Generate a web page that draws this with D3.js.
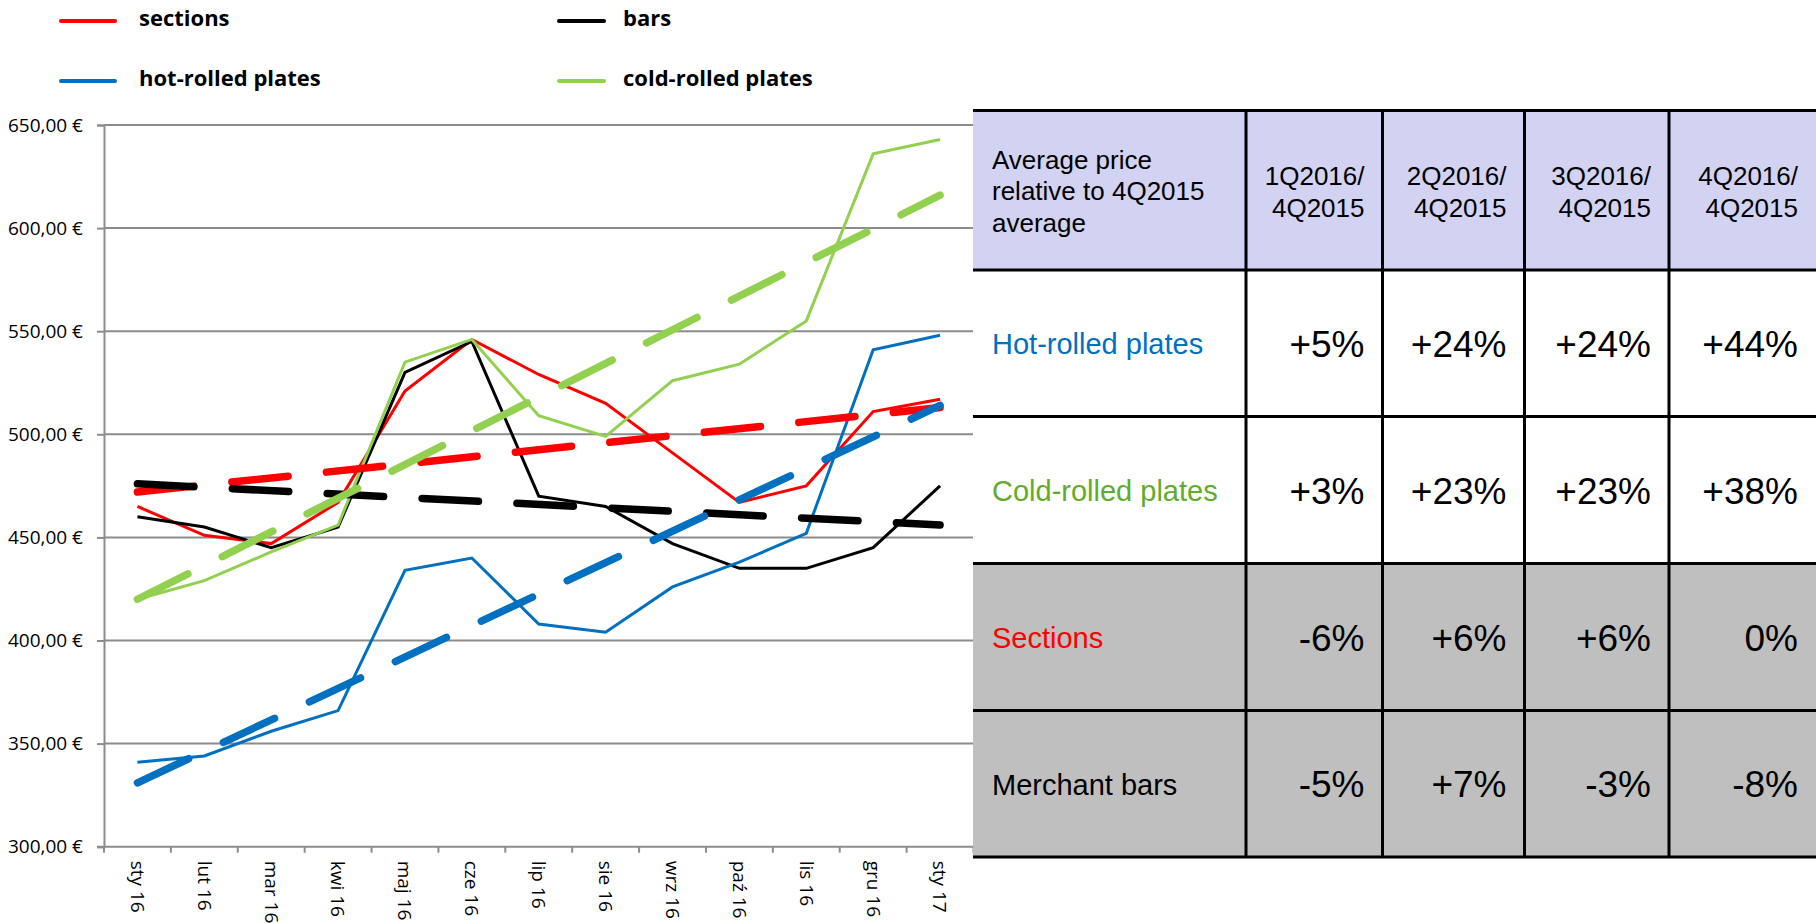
<!DOCTYPE html>
<html>
<head>
<meta charset="utf-8">
<script src="https://cdn.jsdelivr.net/npm/d3@7"></script>
<style>
  body { margin: 0; background: #fff; }
  svg { display: block; }
</style>
</head>
<body>
<div id="chart"></div>
<script>
// monthly prices, EUR/t
var months = ["sty 16", "lut 16", "mar 16", "kwi 16", "maj 16", "cze 16", "lip 16",
              "sie 16", "wrz 16", "paź 16", "lis 16", "gru 16", "sty 17"];
var sections   = [465, 451, 447, 467, 521, 546, 529, 515, 491, 467, 475, 511, 517];
var bars       = [460, 455, 445, 455, 530, 545, 470, 465, 447, 435, 435, 445, 475];
var hotRolled  = [341, 344, 356, 366, 434, 440, 408, 404, 426, 438, 452, 541, 548];
var coldRolled = [420, 429, 443, 456, 535, 546, 509, 499, 526, 534, 555, 636, 643];

// trend lines: value at first and at last month
var sectionsTrend   = [472, 513];
var barsTrend       = [476, 456];
var hotRolledTrend  = [331, 514];
var coldRolledTrend = [420, 616];

var yTicks = [300, 350, 400, 450, 500, 550, 600, 650];

// table on the right
var tableTitle = ["Average price", "relative to 4Q2015", "average"];
var quarterHeaders = [["1Q2016/", "4Q2015"], ["2Q2016/", "4Q2015"], ["3Q2016/", "4Q2015"], ["4Q2016/", "4Q2015"]];
var rowLabels = ["Hot-rolled plates", "Cold-rolled plates", "Sections", "Merchant bars"];
var hotRolledChange  = ["+5%", "+24%", "+24%", "+44%"];
var coldRolledChange = ["+3%", "+23%", "+23%", "+38%"];
var sectionsChange   = ["-6%", "+6%", "+6%", "0%"];
var barsChange       = ["-5%", "+7%", "-3%", "-8%"];

var series = [
    { name: "sections", values: sections, trend: sectionsTrend, color: "#FF0000" },
    { name: "bars", values: bars, trend: barsTrend, color: "#000000" },
    { name: "hot-rolled plates", values: hotRolled, trend: hotRolledTrend, color: "#0070C0" },
    { name: "cold-rolled plates", values: coldRolled, trend: coldRolledTrend, color: "#92D050" }
];

var W = 1816, H = 923;
var plot = { left: 104, right: 973.5, top: 125, bottom: 846.7 };

var svg = d3.select("#chart").append("svg")
    .attr("width", W)
    .attr("height", H);

var x = d3.scaleBand().domain(months).range([plot.left, plot.right]);
var y = d3.scaleLinear().domain([300, 650]).range([plot.bottom, plot.top]);

var euro = d3.formatLocale({ decimal: ",", thousands: " ", grouping: [3], currency: ["", " €"] }).format("$.2f");

// grid lines
svg.append("g")
    .selectAll("line")
    .data(yTicks.slice(1))
    .enter().append("line")
    .attr("x1", plot.left).attr("x2", plot.right)
    .attr("y1", function(d) { return y(d); })
    .attr("y2", function(d) { return y(d); })
    .style("stroke", "#8c8c8c")
    .style("stroke-width", 2);

// y axis
var yAxis = svg.append("g")
    .attr("transform", "translate(" + plot.left + ",0)")
    .call(d3.axisLeft(y).tickValues(yTicks).tickSize(7).tickPadding(14).tickFormat(euro));
yAxis.select(".domain").style("stroke", "#8c8c8c").style("stroke-width", 2);
yAxis.selectAll(".tick line").style("stroke", "#8c8c8c").style("stroke-width", 2);
yAxis.selectAll(".tick text")
    .style("font-family", "'Open Sans', sans-serif")
    .style("font-size", "19px")
    .style("fill", "#000");

// x axis: line, ticks at month boundaries, rotated labels
svg.append("line")
    .attr("x1", plot.left - 7).attr("x2", plot.right)
    .attr("y1", plot.bottom).attr("y2", plot.bottom)
    .style("stroke", "#8c8c8c").style("stroke-width", 2);

var bounds = months.map(function(m) { return x(m); }).concat([plot.right]);
svg.append("g").selectAll("line")
    .data(bounds)
    .enter().append("line")
    .attr("x1", function(d) { return d; }).attr("x2", function(d) { return d; })
    .attr("y1", plot.bottom).attr("y2", plot.bottom + 6)
    .style("stroke", "#8c8c8c").style("stroke-width", 2);

svg.append("g").selectAll("text")
    .data(months)
    .enter().append("text")
    .attr("transform", function(d) {
        return "translate(" + (x(d) + x.bandwidth() / 2) + "," + (plot.bottom + 14) + ") rotate(90)";
    })
    .attr("dy", "0.35em")
    .style("font-family", "'Open Sans', sans-serif")
    .style("font-size", "19px")
    .style("fill", "#000")
    .text(function(d) { return d; });

var line = d3.line()
    .x(function(d, i) { return x(months[i]) + x.bandwidth() / 2; })
    .y(function(d) { return y(d); });

// data lines
svg.append("g").selectAll("path")
    .data(series)
    .enter().append("path")
    .attr("d", function(s) { return line(s.values); })
    .style("fill", "none")
    .style("stroke", function(s) { return s.color; })
    .style("stroke-width", 3);

// linear trend lines, long dashes
var trendLine = d3.line()
    .x(function(d, i) { return x(months[i === 0 ? 0 : months.length - 1]) + x.bandwidth() / 2; })
    .y(function(d) { return y(d); });

svg.append("g").selectAll("path")
    .data(series)
    .enter().append("path")
    .attr("d", function(s) { return trendLine(s.trend); })
    .style("fill", "none")
    .style("stroke", function(s) { return s.color; })
    .style("stroke-width", 7.5)
    .style("stroke-linecap", "round")
    .style("stroke-dasharray", "56.5,38.5");

// legend
var legendPos = [
    { sx: 61, ex: 115, tx: 139, y: 21 },
    { sx: 559, ex: 604, tx: 623, y: 21 },
    { sx: 61, ex: 115, tx: 139, y: 81 },
    { sx: 559, ex: 604, tx: 623, y: 81 }
];
var legend = svg.append("g").selectAll("g")
    .data(series)
    .enter().append("g");
legend.append("line")
    .attr("x1", function(d, i) { return legendPos[i].sx; })
    .attr("x2", function(d, i) { return legendPos[i].ex; })
    .attr("y1", function(d, i) { return legendPos[i].y; })
    .attr("y2", function(d, i) { return legendPos[i].y; })
    .style("stroke", function(d) { return d.color; })
    .style("stroke-width", 4)
    .style("stroke-linecap", "round");
legend.append("text")
    .attr("x", function(d, i) { return legendPos[i].tx; })
    .attr("y", function(d, i) { return legendPos[i].y + 5; })
    .style("font-family", "'Open Sans', sans-serif")
    .style("font-weight", "bold")
    .style("font-size", "22px")
    .style("fill", "#000")
    .text(function(d) { return d.name; });

// table
var colX = [973, 1246, 1382.5, 1524.5, 1669, 1816];
var rowY = [110.5, 270, 416.5, 563.5, 710.5, 857];
var rowFill = ["#D2D2F3", "#FFFFFF", "#FFFFFF", "#BFBFBF", "#BFBFBF"];
var rowColor = ["#0070C0", "#5FAD2B", "#FF0000", "#000000"];
var rowValues = [hotRolledChange, coldRolledChange, sectionsChange, barsChange];

var table = svg.append("g").style("font-family", "'Liberation Sans', Arial, sans-serif");

table.selectAll("rect")
    .data(rowFill)
    .enter().append("rect")
    .attr("x", colX[0])
    .attr("y", function(d, i) { return rowY[i]; })
    .attr("width", colX[5] - colX[0])
    .attr("height", function(d, i) { return rowY[i + 1] - rowY[i]; })
    .style("fill", function(d) { return d; });

table.selectAll("text.title")
    .data(tableTitle)
    .enter().append("text")
    .attr("class", "title")
    .attr("x", colX[0] + 19)
    .attr("y", function(d, i) { return 169 + i * 31.3; })
    .style("font-size", "26px")
    .text(function(d) { return d; });

quarterHeaders.forEach(function(h, c) {
    table.selectAll("text.q" + c)
        .data(h)
        .enter().append("text")
        .attr("class", "q" + c)
        .attr("x", colX[c + 2] - 18)
        .attr("y", function(d, i) { return 185 + i * 31.7; })
        .attr("text-anchor", "end")
        .style("font-size", "26px")
        .text(function(d) { return d; });
});

rowLabels.forEach(function(label, r) {
    var mid = (rowY[r + 1] + rowY[r + 2]) / 2;
    table.append("text")
        .attr("x", colX[0] + 19)
        .attr("y", mid + 11)
        .style("font-size", "29px")
        .style("fill", rowColor[r])
        .text(label);
    table.selectAll("text.v" + r)
        .data(rowValues[r])
        .enter().append("text")
        .attr("class", "v" + r)
        .attr("x", function(d, c) { return colX[c + 2] - 18; })
        .attr("y", mid + 13.5)
        .attr("text-anchor", "end")
        .style("font-size", "37px")
        .style("fill", "#000")
        .text(function(d) { return d; });
});

table.selectAll("line.h")
    .data(rowY)
    .enter().append("line")
    .attr("class", "h")
    .attr("x1", colX[0]).attr("x2", colX[5])
    .attr("y1", function(d) { return d; }).attr("y2", function(d) { return d; })
    .style("stroke", "#000").style("stroke-width", 3);

table.selectAll("line.v")
    .data(colX.slice(1, 5))
    .enter().append("line")
    .attr("class", "v")
    .attr("x1", function(d) { return d; }).attr("x2", function(d) { return d; })
    .attr("y1", rowY[0]).attr("y2", rowY[5])
    .style("stroke", "#000").style("stroke-width", 3);
</script>
</body>
</html>
